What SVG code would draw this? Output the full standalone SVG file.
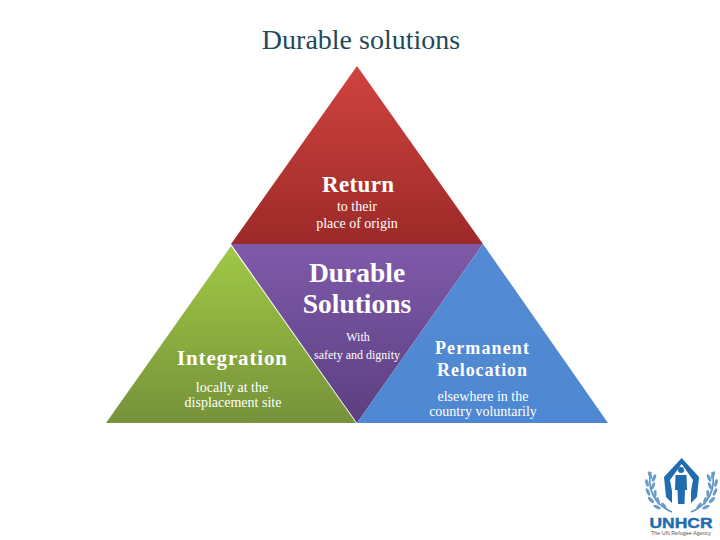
<svg xmlns="http://www.w3.org/2000/svg" width="720" height="540" viewBox="0 0 720 540">
<style>
text{font-family:"Liberation Serif","Times New Roman",serif;text-anchor:middle;fill:#fff}
.h{font-weight:bold;font-size:23px}
.h2{font-weight:bold;font-size:27.5px}
.h3{font-weight:bold;font-size:18px}
.h4{font-weight:bold;font-size:21px}
.s{font-size:14px}
.xs{font-size:12px}
.lg{fill:#1f6cb0}
.lf{fill:#6a9ccb}
.lk{stroke:#5c93c6;stroke-width:1.6;fill:none}
.lv{fill:#6a9ccb}
</style>
<defs>
<linearGradient id="r" x1="0" y1="0" x2="0" y2="1"><stop offset="0" stop-color="#d04340"/><stop offset="1" stop-color="#9c2a28"/></linearGradient>
<linearGradient id="g" x1="0" y1="0" x2="0" y2="1"><stop offset="0" stop-color="#a0c845"/><stop offset="1" stop-color="#76923a"/></linearGradient>
<linearGradient id="p" x1="0" y1="0" x2="0" y2="1"><stop offset="0" stop-color="#7f5aaa"/><stop offset="1" stop-color="#5b3f80"/></linearGradient>
<linearGradient id="b" x1="0" y1="0" x2="0" y2="1"><stop offset="0" stop-color="#538ad4"/><stop offset="1" stop-color="#4f88d2"/></linearGradient>
<g id="wreath">
<path class="lk" d="M651 472 C647 488 653 504 672 512"/>
<ellipse class="lv" cx="650" cy="475" rx="1.6" ry="4" transform="rotate(-20 650 475)"/>
<ellipse class="lv" cx="654" cy="478" rx="1.6" ry="4" transform="rotate(25 654 478)"/>
<ellipse class="lv" cx="647" cy="483" rx="1.6" ry="4" transform="rotate(-15 647 483)"/>
<ellipse class="lv" cx="653" cy="486" rx="1.6" ry="4" transform="rotate(20 653 486)"/>
<ellipse class="lv" cx="648" cy="492" rx="1.6" ry="4" transform="rotate(-25 648 492)"/>
<ellipse class="lv" cx="655" cy="494" rx="1.6" ry="4" transform="rotate(5 655 494)"/>
<ellipse class="lv" cx="651" cy="500" rx="1.6" ry="4" transform="rotate(-45 651 500)"/>
<ellipse class="lv" cx="658" cy="501" rx="1.6" ry="4" transform="rotate(-15 658 501)"/>
<ellipse class="lv" cx="657" cy="507" rx="1.6" ry="4" transform="rotate(-65 657 507)"/>
<ellipse class="lv" cx="664" cy="506" rx="1.6" ry="4" transform="rotate(-35 664 506)"/>
</g>
</defs>
<rect width="720" height="540" fill="#fff"/>
<text x="361" y="49" font-size="28" style="fill:#1f4a5c">Durable solutions</text>
<g id="return">
<polygon points="357,66 483,244 231,244" fill="url(#r)"/>
<text class="h" x="358" y="192" textLength="72">Return</text>
<text class="s" x="357" y="211">to their</text>
<text class="s" x="357" y="228">place of origin</text>
</g>
<g id="integration">
<polygon points="231,246 356,423 106,423" fill="url(#g)"/>
<text class="h4" x="232" y="365" textLength="110">Integration</text>
<text class="s" x="232" y="392">locally at the</text>
<text class="s" x="233" y="407">displacement site</text>
</g>
<g id="durable">
<polygon points="231,244 483,244 357,423" fill="url(#p)"/>
<text class="h2" x="357" y="282">Durable</text>
<text class="h2" x="357" y="313">Solutions</text>
<text class="xs" x="358" y="341">With</text>
<text class="xs" x="357" y="359">safety and dignity</text>
</g>
<g id="relocation">
<polygon points="483,244 608,423 357,423" fill="url(#b)"/>
<text class="h3" x="482" y="354" textLength="94">Permanent</text>
<text class="h3" x="482" y="376" textLength="90">Relocation</text>
<text class="s" x="483" y="401">elsewhere in the</text>
<text class="s" x="483" y="416">country voluntarily</text>
</g>
<g id="logo">
<path class="lg" d="M681.700 458 L699 477 L697 497 L691 503 L691 491 L693 480 L681.700 464 L670 480 L672 491 L672 503 L666 497 L664 477Z"/>
<circle class="lg" cx="681" cy="470" r="3"/>
<path class="lg" d="M675.500 475 H686.500 L687 490 H685 L684.500 504 H678 L677.500 490 H675Z"/>
<use href="#wreath"/>
<use href="#wreath" transform="translate(1363 0) scale(-1 1)"/>
<text x="681" y="528" style="font-family:'Liberation Sans',sans-serif;font-weight:bold;font-size:14px;fill:#1f6cb0;stroke:#1f6cb0;stroke-width:.4" textLength="63" lengthAdjust="spacingAndGlyphs">UNHCR</text>
<text x="681" y="535" style="font-family:'Liberation Sans',sans-serif;font-size:5.500px;fill:#555" textLength="60" lengthAdjust="spacingAndGlyphs">The UN Refugee Agency</text>
</g>
</svg>
